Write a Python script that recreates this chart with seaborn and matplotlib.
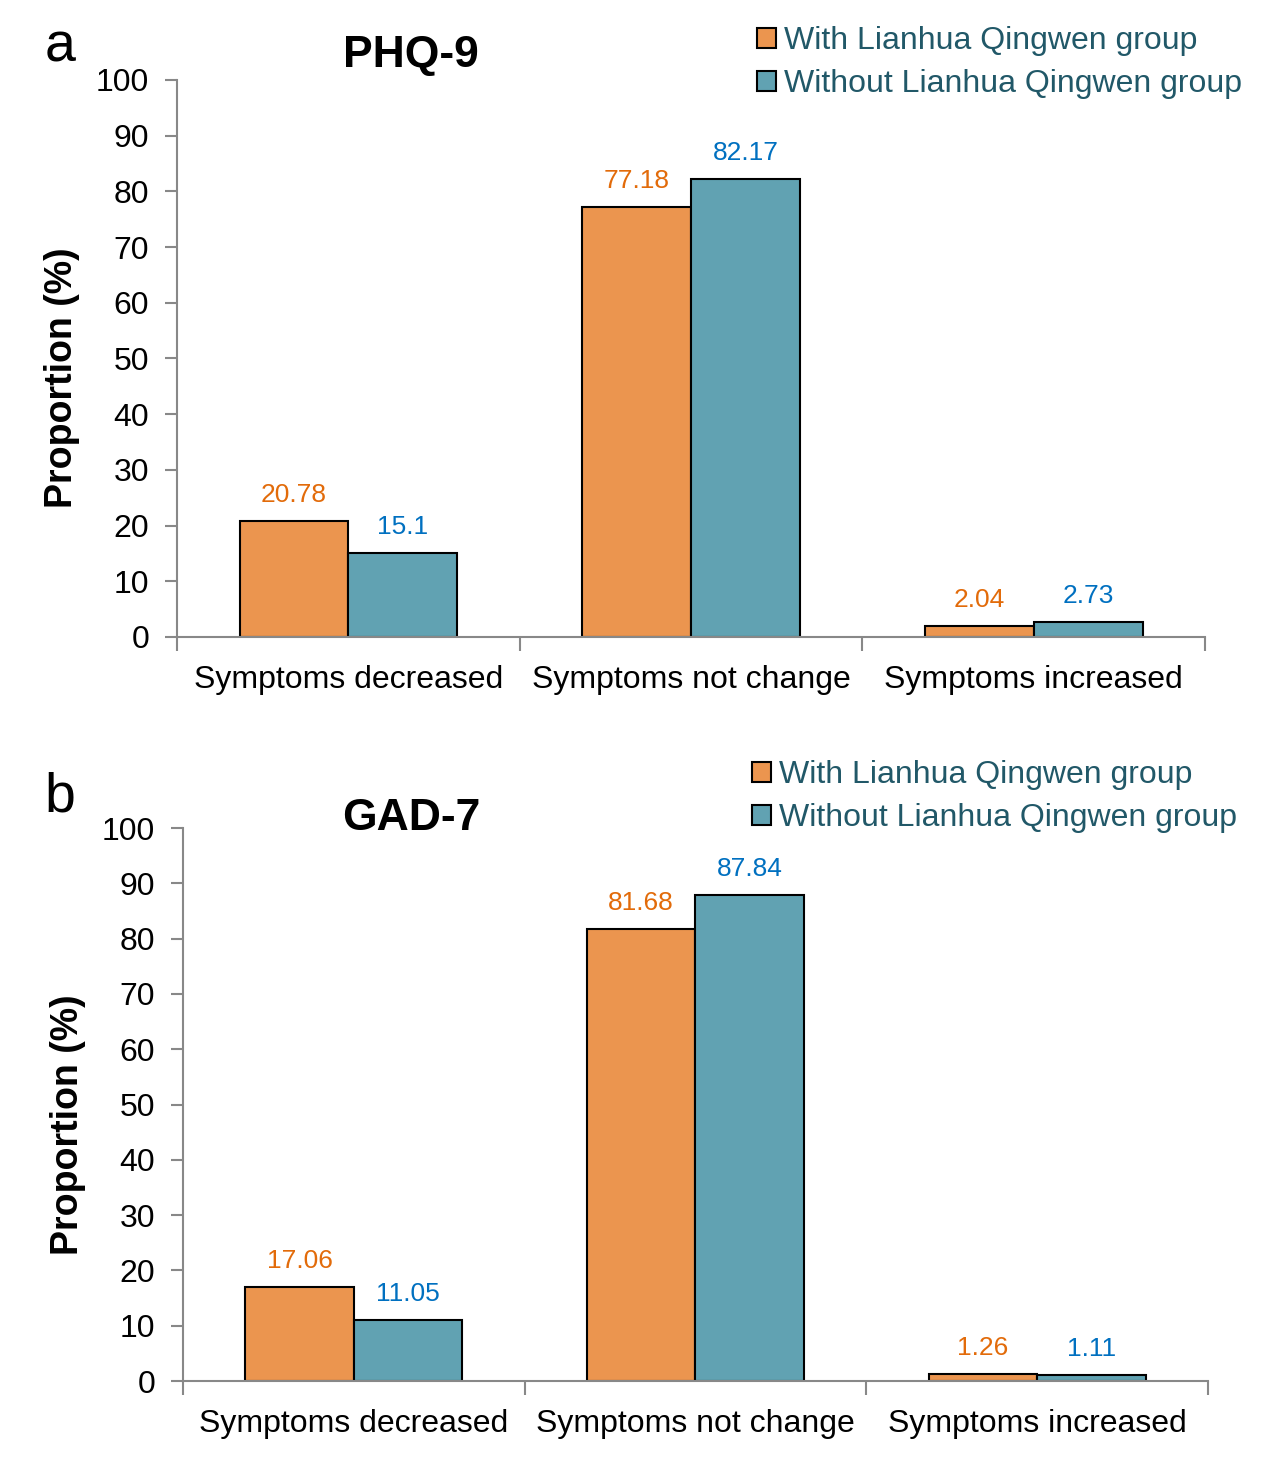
import pandas as pd
import matplotlib.pyplot as plt
import seaborn as sns
from matplotlib.patches import Patch
from matplotlib.ticker import FixedLocator

# --- Data ---
categories = ['Symptoms decreased', 'Symptoms not change', 'Symptoms increased']
groups = ['With Lianhua Qingwen group', 'Without Lianhua Qingwen group']
phq9_with = [20.78, 77.18, 2.04]
phq9_without = [15.1, 82.17, 2.73]
gad7_with = [17.06, 81.68, 1.26]
gad7_without = [11.05, 87.84, 1.11]
phq9_labels = [['20.78', '77.18', '2.04'], ['15.1', '82.17', '2.73']]
gad7_labels = [['17.06', '81.68', '1.26'], ['11.05', '87.84', '1.11']]
yticks = list(range(0, 101, 10))

bar_colors = ['#EB954F', '#61A2B2']
label_colors = ['#E26B0A', '#0070C0']
legend_text_color = '#215868'

sns.set_theme(style='white')
plt.rcParams['font.family'] = ['Liberation Sans', 'DejaVu Sans']
plt.rcParams['text.color'] = 'black'

W, H = 1269, 1470
fig = plt.figure(figsize=(W / 100, H / 100), dpi=100)
ax_a = fig.add_axes([0.1395, 0.5667, 0.8101, 0.3789])
ax_b = fig.add_axes([0.1442, 0.0605, 0.8077, 0.3762])


def draw_panel(ax, with_vals, without_vals, labels, title, letter, ylab_xy,
               title_y, letter_y, legend_xy):
    df = pd.DataFrame({
        'Category': categories * 2,
        'Group': [groups[0]] * 3 + [groups[1]] * 3,
        'Value': with_vals + without_vals,
    })
    sns.barplot(data=df, x='Category', y='Value', hue='Group', order=categories,
                hue_order=groups, palette=bar_colors, width=0.635, gap=0,
                edgecolor='black', linewidth=1.5, legend=False, ax=ax, saturation=1)
    for cont, labs, col in zip(ax.containers, labels, label_colors):
        ax.bar_label(cont, labels=labs, padding=10, color=col, fontsize=19)

    ax.set_xlim(-0.5, 2.5)
    ax.set_ylim(0, 100)
    ax.set_yticks(yticks)
    ax.tick_params(axis='y', labelsize=23, length=9, width=1.5, color='#888888',
                   labelcolor='black', direction='out', left=True, pad=11)
    ax.tick_params(axis='x', which='major', labelsize=23, length=0, pad=20,
                   labelcolor='black')
    ax.xaxis.set_minor_locator(FixedLocator([-0.5, 0.5, 1.5, 2.5]))
    ax.tick_params(axis='x', which='minor', length=10, width=1.5, color='#888888',
                   direction='out', bottom=True)
    for side in ['top', 'right']:
        ax.spines[side].set_visible(False)
    for side in ['left', 'bottom']:
        ax.spines[side].set_color('#888888')
        ax.spines[side].set_linewidth(1.5)
    ax.set_xlabel('')
    ax.set_ylabel('Proportion (%)', fontsize=27, fontweight='bold', color='black')
    ax.yaxis.set_label_coords(*ylab_xy)

    fig.text(411 / W, 1 - title_y / H, title, fontsize=32, fontweight='heavy',
             ha='center', va='center')
    fig.text(60 / W, 1 - letter_y / H, letter, fontsize=40, ha='center', va='center')

    handles = [Patch(facecolor=c, edgecolor='black', linewidth=1.5) for c in bar_colors]
    fig.legend(handles, groups, loc='upper left',
               bbox_to_anchor=(legend_xy[0] / W, 1 - legend_xy[1] / H), frameon=False,
               fontsize=23, labelcolor=legend_text_color, handlelength=0.6,
               handleheight=0.6, handletextpad=0.25, labelspacing=0.42,
               borderaxespad=0, borderpad=0)


draw_panel(ax_a, phq9_with, phq9_without, phq9_labels, 'PHQ-9', 'a',
           (-0.094, 0.465), 56, 48, (757, 26))
draw_panel(ax_b, gad7_with, gad7_without, gad7_labels, 'GAD-7', 'b',
           (-0.095, 0.463), 818, 798, (752, 760))

fig.savefig('out.png', dpi=100)
